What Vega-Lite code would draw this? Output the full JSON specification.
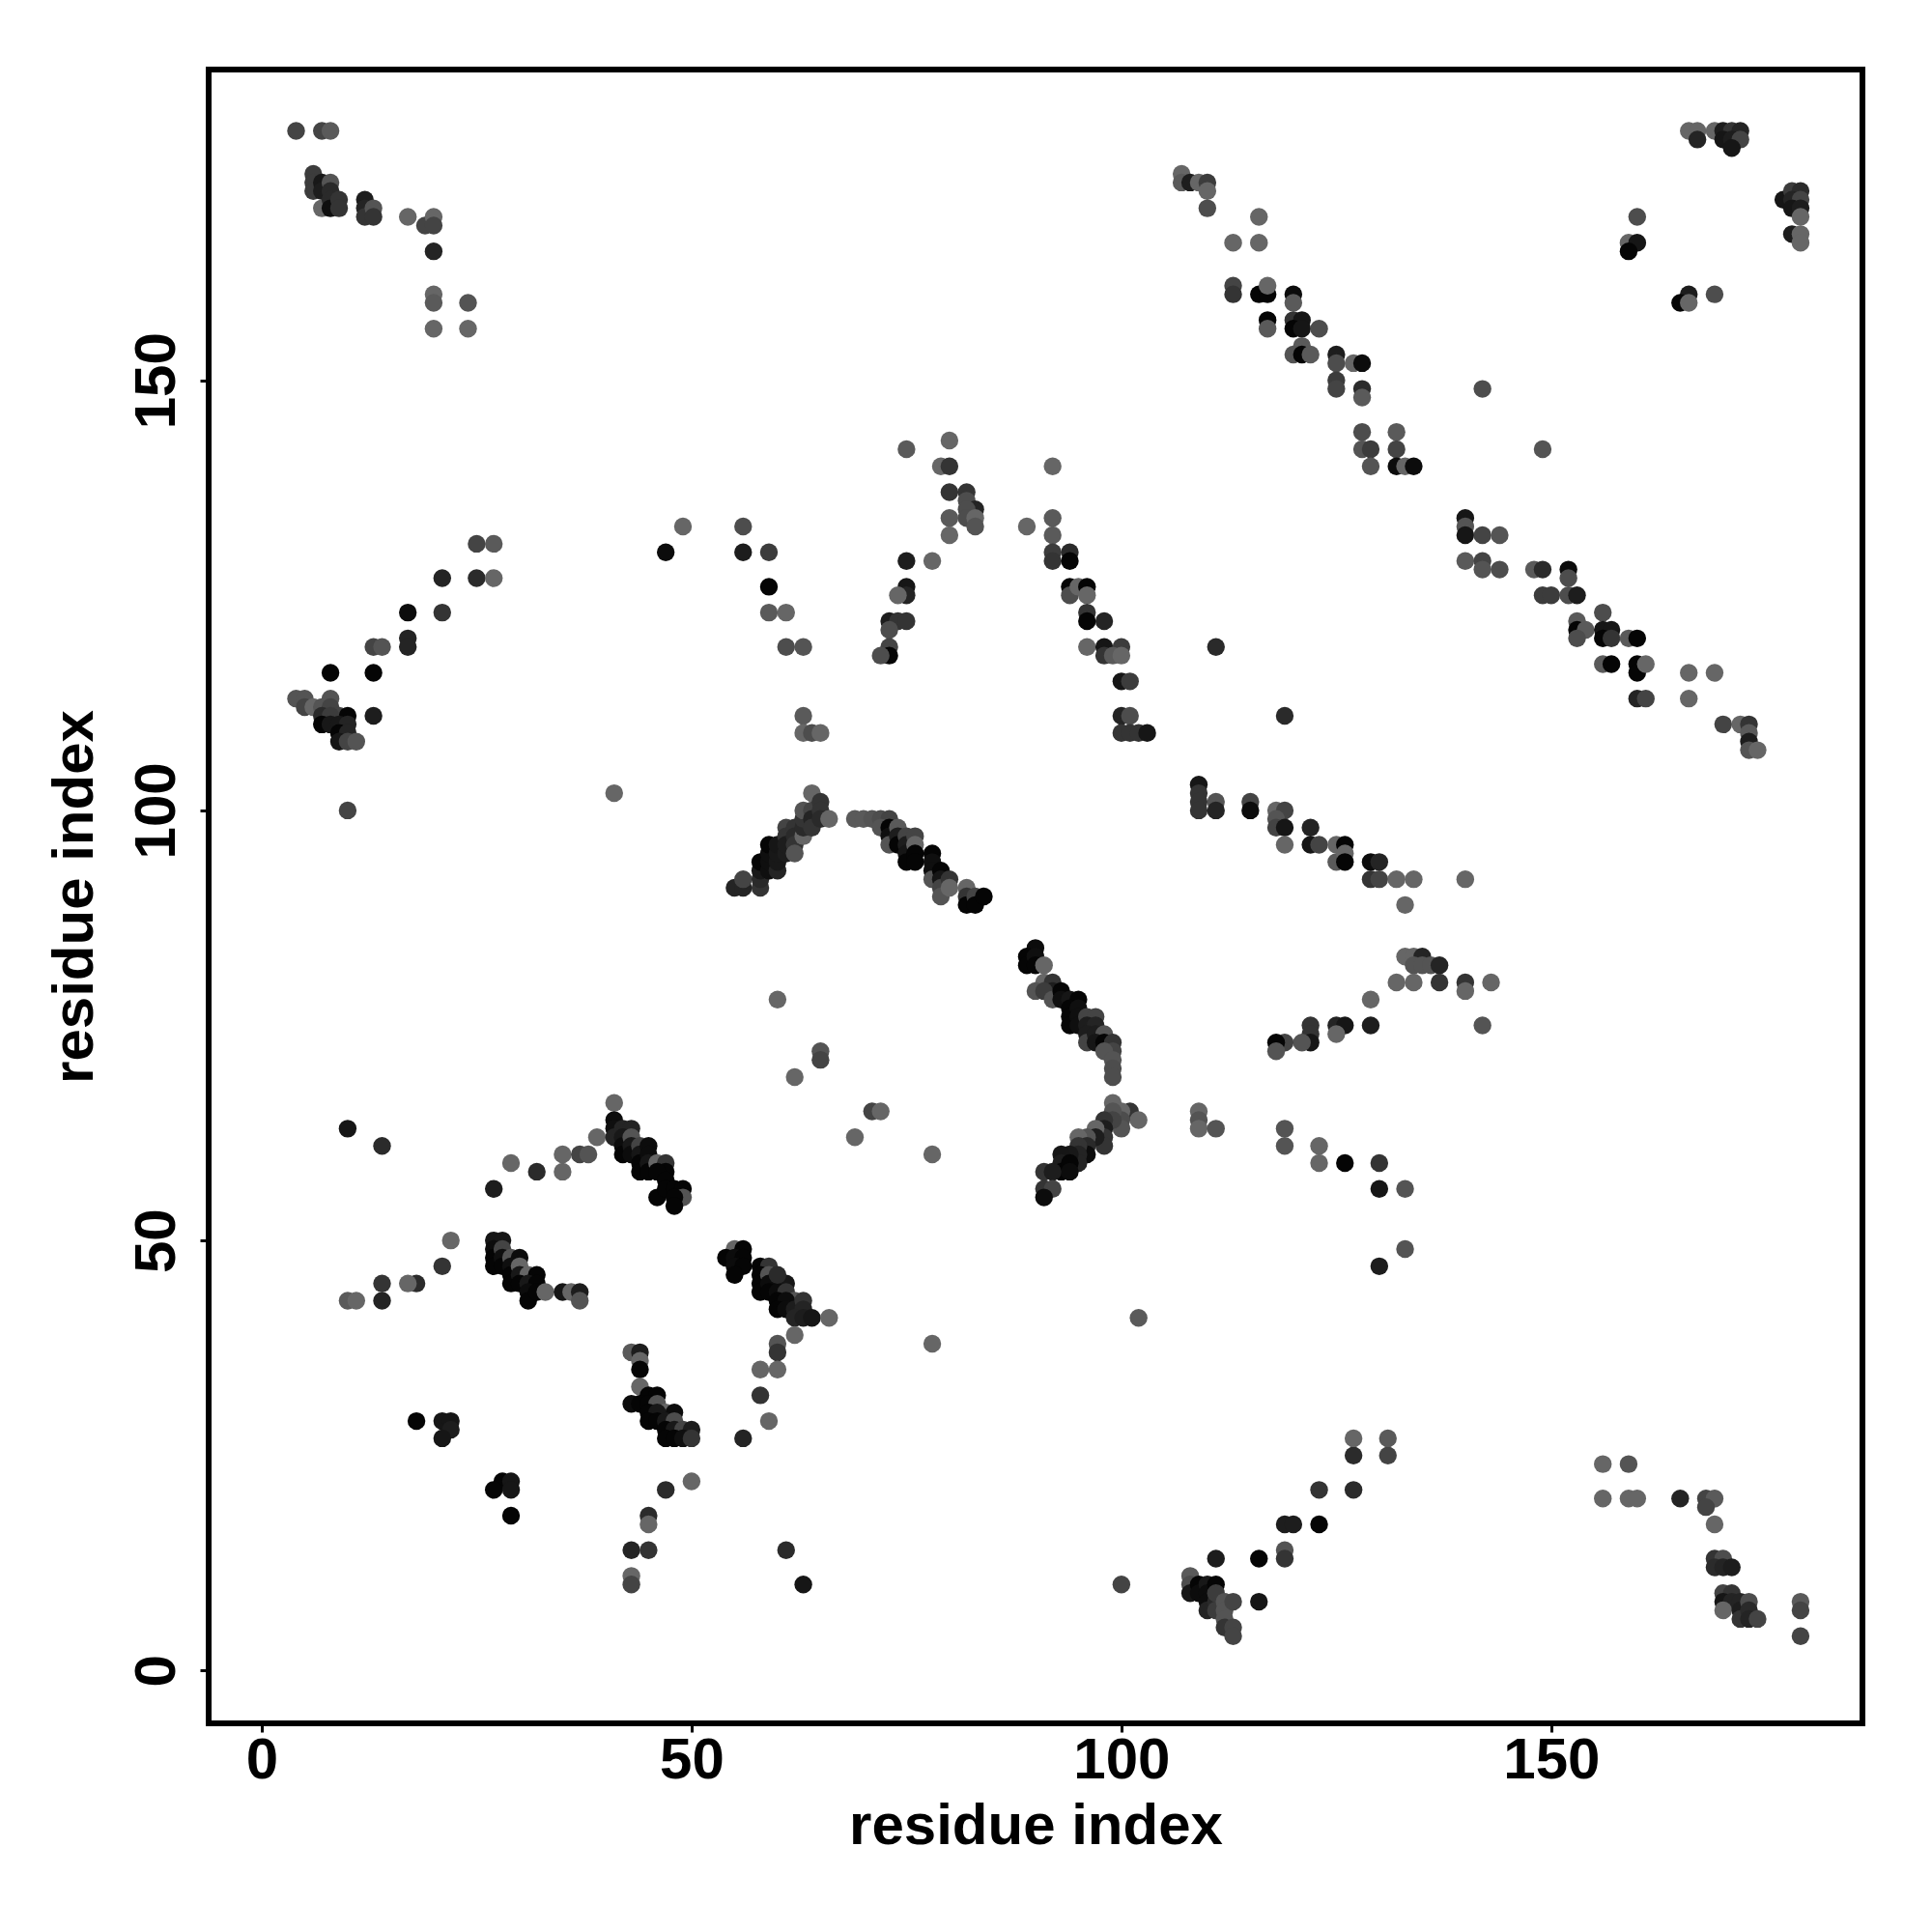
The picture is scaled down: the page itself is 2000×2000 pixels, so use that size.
{"$schema":"https://vega.github.io/schema/vega-lite/v6.json","width":1712,"height":1712,"autosize":{"type":"none"},"padding":{"left":216,"top":72,"right":72,"bottom":216},"background":"white","config":{"view":{"stroke":"black","strokeWidth":6,"fill":"white"}},
"data":{"values":[
{"x":4,"y":179,"g":68},{"x":7,"y":179,"g":68},{"x":8,"y":179,"g":90},{"x":6,"y":174,"g":60},{"x":6,"y":173,"g":60},{"x":6,"y":172,"g":60},{"x":7,"y":173,"g":20},{"x":7,"y":172,"g":26},{"x":7,"y":170,"g":102},{"x":8,"y":173,"g":85},{"x":8,"y":172,"g":40},{"x":8,"y":171,"g":40},{"x":8,"y":170,"g":10},{"x":9,"y":171,"g":51},{"x":9,"y":170,"g":51},{"x":12,"y":171,"g":26},{"x":12,"y":170,"g":34},{"x":12,"y":169,"g":51},{"x":13,"y":170,"g":85},{"x":13,"y":169,"g":51},{"x":17,"y":169,"g":102},{"x":19,"y":168,"g":68},{"x":20,"y":169,"g":102},{"x":20,"y":168,"g":68},{"x":20,"y":165,"g":34},{"x":20,"y":160,"g":102},{"x":20,"y":159,"g":90},{"x":24,"y":159,"g":85},{"x":20,"y":156,"g":102},{"x":24,"y":156,"g":102},
{"x":25,"y":131,"g":68},{"x":27,"y":131,"g":90},{"x":21,"y":127,"g":34},{"x":25,"y":127,"g":42},{"x":27,"y":127,"g":102},{"x":17,"y":123,"g":8},{"x":21,"y":123,"g":51},{"x":17,"y":120,"g":34},{"x":17,"y":119,"g":34},{"x":13,"y":119,"g":68},{"x":14,"y":119,"g":85},{"x":8,"y":116,"g":3},{"x":13,"y":116,"g":3},{"x":4,"y":113,"g":85},{"x":5,"y":113,"g":85},{"x":8,"y":113,"g":85},{"x":5,"y":112,"g":68},{"x":6,"y":112,"g":102},{"x":7,"y":112,"g":85},{"x":8,"y":112,"g":68},{"x":9,"y":111,"g":68},{"x":10,"y":111,"g":3},{"x":7,"y":111,"g":40},{"x":8,"y":111,"g":60},{"x":13,"y":111,"g":26},{"x":7,"y":110,"g":3},{"x":8,"y":110,"g":20},{"x":9,"y":110,"g":20},{"x":10,"y":110,"g":34},{"x":9,"y":109,"g":3},{"x":10,"y":109,"g":34},{"x":9,"y":108,"g":17},{"x":10,"y":108,"g":68},{"x":11,"y":108,"g":85},{"x":10,"y":100,"g":68},{"x":41,"y":102,"g":102},
{"x":49,"y":133,"g":102},{"x":56,"y":133,"g":77},{"x":47,"y":130,"g":8},{"x":56,"y":130,"g":26},{"x":59,"y":130,"g":60},{"x":59,"y":126,"g":3},{"x":59,"y":123,"g":90},{"x":61,"y":123,"g":102},{"x":61,"y":119,"g":77},{"x":63,"y":119,"g":85},{"x":63,"y":111,"g":90},{"x":63,"y":109,"g":102},{"x":64,"y":109,"g":77},{"x":65,"y":109,"g":102},
{"x":75,"y":142,"g":90},{"x":80,"y":143,"g":102},{"x":79,"y":140,"g":102},{"x":80,"y":140,"g":51},{"x":80,"y":137,"g":51},{"x":82,"y":137,"g":51},{"x":82,"y":136,"g":77},{"x":83,"y":135,"g":34},{"x":82,"y":135,"g":77},{"x":82,"y":134,"g":77},{"x":83,"y":134,"g":102},{"x":83,"y":133,"g":85},{"x":80,"y":134,"g":90},{"x":80,"y":132,"g":102},{"x":75,"y":129,"g":26},{"x":78,"y":129,"g":102},{"x":75,"y":126,"g":17},{"x":75,"y":125,"g":34},{"x":74,"y":125,"g":102},{"x":73,"y":122,"g":26},{"x":74,"y":122,"g":51},{"x":75,"y":122,"g":51},{"x":73,"y":121,"g":77},{"x":73,"y":119,"g":68},{"x":73,"y":118,"g":3},{"x":72,"y":118,"g":77},
{"x":92,"y":140,"g":102},{"x":89,"y":133,"g":102},{"x":92,"y":134,"g":90},{"x":92,"y":132,"g":90},{"x":92,"y":130,"g":60},{"x":92,"y":129,"g":51},{"x":94,"y":130,"g":42},{"x":94,"y":129,"g":3},{"x":94,"y":126,"g":3},{"x":94,"y":125,"g":77},{"x":95,"y":126,"g":102},{"x":96,"y":126,"g":3},{"x":96,"y":125,"g":102},{"x":96,"y":123,"g":51},{"x":96,"y":122,"g":3},{"x":98,"y":122,"g":34},{"x":96,"y":119,"g":102},{"x":98,"y":119,"g":17},{"x":100,"y":119,"g":60},{"x":98,"y":118,"g":51},{"x":99,"y":118,"g":90},{"x":100,"y":118,"g":102},{"x":100,"y":115,"g":17},{"x":101,"y":115,"g":60},{"x":100,"y":111,"g":34},{"x":101,"y":111,"g":77},{"x":100,"y":109,"g":51},{"x":101,"y":109,"g":51},{"x":102,"y":109,"g":51},{"x":103,"y":109,"g":17},{"x":111,"y":119,"g":40},{"x":119,"y":111,"g":40},
{"x":55,"y":91,"g":34},{"x":56,"y":91,"g":34},{"x":56,"y":92,"g":68},{"x":58,"y":91,"g":51},{"x":58,"y":92,"g":40},{"x":58,"y":93,"g":20},{"x":58,"y":94,"g":3},{"x":59,"y":93,"g":10},{"x":59,"y":94,"g":10},{"x":59,"y":95,"g":10},{"x":59,"y":96,"g":3},{"x":60,"y":93,"g":34},{"x":60,"y":94,"g":20},{"x":60,"y":95,"g":20},{"x":60,"y":96,"g":17},{"x":61,"y":98,"g":68},{"x":61,"y":97,"g":51},{"x":61,"y":95,"g":26},{"x":61,"y":96,"g":26},{"x":62,"y":98,"g":51},{"x":62,"y":97,"g":40},{"x":62,"y":96,"g":51},{"x":62,"y":95,"g":85},{"x":63,"y":97,"g":102},{"x":63,"y":98,"g":40},{"x":63,"y":99,"g":51},{"x":63,"y":100,"g":85},{"x":64,"y":102,"g":102},{"x":64,"y":100,"g":68},{"x":64,"y":99,"g":34},{"x":64,"y":98,"g":51},{"x":65,"y":101,"g":51},{"x":65,"y":100,"g":51},{"x":65,"y":99,"g":40},{"x":66,"y":99,"g":102},
{"x":69,"y":99,"g":90},{"x":70,"y":99,"g":90},{"x":71,"y":99,"g":85},{"x":72,"y":99,"g":77},{"x":73,"y":99,"g":68},{"x":72,"y":98,"g":85},{"x":73,"y":98,"g":3},{"x":73,"y":97,"g":10},{"x":73,"y":96,"g":85},{"x":74,"y":98,"g":90},{"x":74,"y":97,"g":26},{"x":74,"y":96,"g":3},{"x":75,"y":97,"g":68},{"x":75,"y":96,"g":26},{"x":75,"y":95,"g":17},{"x":75,"y":94,"g":3},{"x":76,"y":97,"g":68},{"x":76,"y":96,"g":102},{"x":76,"y":95,"g":3},{"x":76,"y":94,"g":3},{"x":78,"y":95,"g":3},{"x":78,"y":94,"g":10},{"x":78,"y":93,"g":10},{"x":78,"y":92,"g":85},{"x":79,"y":93,"g":3},{"x":79,"y":92,"g":17},{"x":79,"y":91,"g":68},{"x":79,"y":90,"g":85},{"x":80,"y":92,"g":51},{"x":80,"y":91,"g":102},{"x":82,"y":91,"g":102},{"x":82,"y":90,"g":51},{"x":82,"y":89,"g":3},{"x":83,"y":90,"g":68},{"x":83,"y":89,"g":3},{"x":84,"y":90,"g":3},
{"x":109,"y":103,"g":17},{"x":109,"y":102,"g":51},{"x":109,"y":101,"g":51},{"x":109,"y":100,"g":51},{"x":111,"y":101,"g":85},{"x":111,"y":100,"g":34},{"x":115,"y":101,"g":68},{"x":115,"y":100,"g":8},{"x":118,"y":100,"g":102},{"x":119,"y":100,"g":68},{"x":118,"y":99,"g":85},{"x":118,"y":98,"g":68},{"x":119,"y":98,"g":17},{"x":119,"y":96,"g":102},{"x":122,"y":98,"g":34},{"x":122,"y":96,"g":17},{"x":123,"y":96,"g":68},{"x":125,"y":96,"g":102},{"x":126,"y":96,"g":3},{"x":125,"y":94,"g":90},{"x":126,"y":95,"g":102},{"x":126,"y":94,"g":3},{"x":129,"y":94,"g":8},{"x":130,"y":94,"g":34},{"x":129,"y":92,"g":51},{"x":130,"y":92,"g":68},{"x":132,"y":92,"g":102},{"x":134,"y":92,"g":102},{"x":140,"y":92,"g":102},{"x":133,"y":89,"g":102},
{"x":90,"y":84,"g":8},{"x":89,"y":83,"g":3},{"x":89,"y":82,"g":3},{"x":90,"y":83,"g":10},{"x":90,"y":82,"g":3},{"x":91,"y":82,"g":102},{"x":91,"y":80,"g":102},{"x":90,"y":79,"g":85},{"x":92,"y":80,"g":51},{"x":92,"y":79,"g":26},{"x":91,"y":79,"g":60},{"x":92,"y":78,"g":85},{"x":93,"y":79,"g":3},{"x":93,"y":78,"g":10},{"x":94,"y":78,"g":17},{"x":95,"y":78,"g":3},{"x":94,"y":77,"g":3},{"x":94,"y":76,"g":3},{"x":94,"y":75,"g":3},{"x":95,"y":77,"g":10},{"x":95,"y":76,"g":10},{"x":95,"y":75,"g":10},{"x":96,"y":76,"g":68},{"x":97,"y":76,"g":68},{"x":96,"y":75,"g":26},{"x":97,"y":75,"g":34},{"x":96,"y":74,"g":26},{"x":96,"y":73,"g":68},{"x":97,"y":74,"g":26},{"x":98,"y":74,"g":85},{"x":97,"y":73,"g":17},{"x":98,"y":73,"g":3},{"x":99,"y":73,"g":51},{"x":99,"y":72,"g":68},{"x":98,"y":72,"g":85},{"x":99,"y":71,"g":85},{"x":99,"y":70,"g":77},{"x":99,"y":69,"g":77},
{"x":133,"y":83,"g":102},{"x":134,"y":83,"g":102},{"x":135,"y":83,"g":34},{"x":134,"y":82,"g":85},{"x":135,"y":82,"g":85},{"x":136,"y":82,"g":85},{"x":137,"y":82,"g":34},{"x":132,"y":80,"g":102},{"x":134,"y":80,"g":102},{"x":137,"y":80,"g":51},{"x":140,"y":80,"g":51},{"x":140,"y":79,"g":102},{"x":143,"y":80,"g":102},{"x":129,"y":78,"g":102},{"x":142,"y":75,"g":85},{"x":129,"y":75,"g":26},{"x":125,"y":75,"g":34},{"x":126,"y":75,"g":17},{"x":125,"y":74,"g":102},{"x":122,"y":75,"g":51},{"x":122,"y":74,"g":51},{"x":122,"y":73,"g":17},{"x":121,"y":73,"g":85},{"x":119,"y":73,"g":68},{"x":118,"y":73,"g":3},{"x":118,"y":72,"g":85},
{"x":99,"y":66,"g":102},{"x":101,"y":65,"g":51},{"x":102,"y":64,"g":102},{"x":100,"y":65,"g":102},{"x":100,"y":64,"g":77},{"x":100,"y":63,"g":85},{"x":99,"y":65,"g":85},{"x":99,"y":64,"g":68},{"x":98,"y":64,"g":51},{"x":98,"y":63,"g":26},{"x":98,"y":62,"g":51},{"x":98,"y":61,"g":51},{"x":97,"y":63,"g":102},{"x":97,"y":62,"g":26},{"x":96,"y":62,"g":85},{"x":95,"y":62,"g":102},{"x":96,"y":61,"g":40},{"x":96,"y":60,"g":8},{"x":95,"y":61,"g":51},{"x":95,"y":60,"g":34},{"x":95,"y":59,"g":34},{"x":94,"y":60,"g":20},{"x":93,"y":60,"g":17},{"x":93,"y":59,"g":26},{"x":93,"y":58,"g":3},{"x":94,"y":59,"g":3},{"x":94,"y":58,"g":8},{"x":91,"y":58,"g":51},{"x":92,"y":58,"g":26},{"x":91,"y":56,"g":51},{"x":92,"y":56,"g":68},{"x":91,"y":55,"g":8},
{"x":60,"y":78,"g":102},{"x":65,"y":72,"g":85},{"x":65,"y":71,"g":68},{"x":62,"y":69,"g":102},{"x":71,"y":65,"g":68},{"x":72,"y":65,"g":102},{"x":69,"y":62,"g":102},{"x":78,"y":60,"g":102},{"x":109,"y":65,"g":102},{"x":109,"y":64,"g":85},{"x":109,"y":63,"g":102},{"x":111,"y":63,"g":85},{"x":119,"y":63,"g":85},{"x":119,"y":61,"g":85},{"x":123,"y":61,"g":102},{"x":123,"y":59,"g":102},{"x":126,"y":59,"g":3},{"x":130,"y":59,"g":51},{"x":130,"y":56,"g":17},{"x":133,"y":56,"g":85},{"x":133,"y":49,"g":85},{"x":130,"y":47,"g":26},{"x":102,"y":41,"g":90},
{"x":10,"y":63,"g":17},{"x":14,"y":61,"g":42},{"x":22,"y":50,"g":102},{"x":29,"y":59,"g":102},{"x":32,"y":58,"g":42},{"x":35,"y":58,"g":102},{"x":35,"y":60,"g":102},{"x":37,"y":60,"g":68},{"x":38,"y":60,"g":85},{"x":39,"y":62,"g":102},{"x":41,"y":66,"g":102},{"x":27,"y":56,"g":26},
{"x":41,"y":64,"g":8},{"x":41,"y":63,"g":10},{"x":41,"y":62,"g":34},{"x":42,"y":63,"g":34},{"x":43,"y":63,"g":34},{"x":42,"y":62,"g":20},{"x":42,"y":61,"g":8},{"x":42,"y":60,"g":3},{"x":43,"y":62,"g":85},{"x":43,"y":61,"g":20},{"x":43,"y":60,"g":8},{"x":44,"y":61,"g":68},{"x":44,"y":60,"g":17},{"x":44,"y":59,"g":3},{"x":44,"y":58,"g":3},{"x":45,"y":61,"g":8},{"x":45,"y":60,"g":8},{"x":45,"y":59,"g":17},{"x":45,"y":58,"g":3},{"x":46,"y":59,"g":102},{"x":47,"y":59,"g":51},{"x":47,"y":58,"g":3},{"x":46,"y":58,"g":3},{"x":47,"y":57,"g":3},{"x":46,"y":55,"g":3},{"x":47,"y":56,"g":3},{"x":48,"y":56,"g":3},{"x":49,"y":56,"g":3},{"x":49,"y":55,"g":85},{"x":48,"y":55,"g":3},{"x":48,"y":54,"g":3},
{"x":21,"y":47,"g":51},{"x":18,"y":45,"g":42},{"x":17,"y":45,"g":102},{"x":14,"y":45,"g":51},{"x":14,"y":43,"g":34},{"x":10,"y":43,"g":90},{"x":11,"y":43,"g":102},
{"x":27,"y":50,"g":17},{"x":28,"y":50,"g":17},{"x":27,"y":49,"g":8},{"x":27,"y":48,"g":3},{"x":27,"y":47,"g":3},{"x":28,"y":49,"g":68},{"x":28,"y":48,"g":10},{"x":28,"y":47,"g":3},{"x":29,"y":48,"g":85},{"x":30,"y":48,"g":8},{"x":29,"y":47,"g":10},{"x":29,"y":46,"g":3},{"x":29,"y":45,"g":3},{"x":30,"y":47,"g":102},{"x":30,"y":46,"g":20},{"x":31,"y":46,"g":102},{"x":32,"y":46,"g":3},{"x":30,"y":45,"g":3},{"x":31,"y":45,"g":20},{"x":32,"y":45,"g":3},{"x":31,"y":44,"g":8},{"x":31,"y":43,"g":3},{"x":32,"y":44,"g":3},{"x":33,"y":44,"g":102},{"x":35,"y":44,"g":17},{"x":36,"y":44,"g":102},{"x":37,"y":44,"g":26},{"x":37,"y":43,"g":85},
{"x":55,"y":49,"g":102},{"x":56,"y":49,"g":3},{"x":54,"y":48,"g":3},{"x":55,"y":48,"g":8},{"x":56,"y":48,"g":3},{"x":55,"y":47,"g":8},{"x":56,"y":47,"g":3},{"x":55,"y":46,"g":3},{"x":58,"y":47,"g":3},{"x":59,"y":47,"g":51},{"x":58,"y":46,"g":3},{"x":58,"y":45,"g":3},{"x":58,"y":44,"g":3},{"x":59,"y":46,"g":85},{"x":60,"y":45,"g":85},{"x":61,"y":45,"g":17},{"x":59,"y":45,"g":8},{"x":59,"y":44,"g":3},{"x":60,"y":44,"g":8},{"x":61,"y":44,"g":51},{"x":60,"y":46,"g":40},{"x":62,"y":43,"g":85},{"x":60,"y":43,"g":3},{"x":61,"y":43,"g":8},{"x":60,"y":42,"g":3},{"x":61,"y":42,"g":8},{"x":62,"y":42,"g":26},{"x":63,"y":43,"g":51},{"x":63,"y":42,"g":34},{"x":62,"y":41,"g":34},{"x":63,"y":41,"g":26},{"x":64,"y":41,"g":17},{"x":66,"y":41,"g":102},{"x":62,"y":39,"g":102},{"x":60,"y":38,"g":85},{"x":60,"y":37,"g":51},{"x":58,"y":35,"g":102},{"x":60,"y":35,"g":102},{"x":58,"y":32,"g":51},{"x":59,"y":29,"g":102},{"x":56,"y":27,"g":34},{"x":78,"y":38,"g":102},
{"x":43,"y":37,"g":90},{"x":44,"y":37,"g":26},{"x":44,"y":36,"g":102},{"x":44,"y":35,"g":3},{"x":44,"y":33,"g":102},{"x":45,"y":32,"g":3},{"x":46,"y":32,"g":3},{"x":43,"y":31,"g":8},{"x":44,"y":31,"g":3},{"x":45,"y":31,"g":3},{"x":46,"y":31,"g":85},{"x":47,"y":30,"g":102},{"x":48,"y":30,"g":8},{"x":45,"y":30,"g":3},{"x":46,"y":30,"g":20},{"x":45,"y":29,"g":3},{"x":46,"y":29,"g":3},{"x":47,"y":29,"g":20},{"x":48,"y":29,"g":77},{"x":47,"y":28,"g":3},{"x":48,"y":28,"g":20},{"x":49,"y":28,"g":68},{"x":50,"y":28,"g":26},{"x":47,"y":27,"g":3},{"x":48,"y":27,"g":3},{"x":49,"y":27,"g":10},{"x":50,"y":27,"g":51},
{"x":18,"y":29,"g":3},{"x":21,"y":29,"g":17},{"x":22,"y":29,"g":17},{"x":22,"y":28,"g":26},{"x":21,"y":27,"g":17},{"x":28,"y":22,"g":3},{"x":29,"y":22,"g":17},{"x":27,"y":21,"g":3},{"x":29,"y":21,"g":17},{"x":29,"y":18,"g":3},{"x":50,"y":22,"g":102},{"x":47,"y":21,"g":42},{"x":45,"y":18,"g":42},{"x":45,"y":17,"g":102},{"x":43,"y":14,"g":34},{"x":45,"y":14,"g":51},{"x":61,"y":14,"g":42},{"x":43,"y":11,"g":102},{"x":43,"y":10,"g":68},{"x":63,"y":10,"g":17},
{"x":100,"y":10,"g":68},{"x":108,"y":11,"g":90},{"x":108,"y":10,"g":77},{"x":108,"y":9,"g":17},{"x":109,"y":10,"g":3},{"x":109,"y":9,"g":8},{"x":110,"y":10,"g":20},{"x":110,"y":9,"g":8},{"x":110,"y":8,"g":8},{"x":110,"y":7,"g":34},{"x":111,"y":10,"g":3},{"x":111,"y":13,"g":26},{"x":111,"y":8,"g":40},{"x":111,"y":9,"g":60},{"x":111,"y":7,"g":60},{"x":112,"y":8,"g":85},{"x":112,"y":7,"g":85},{"x":113,"y":8,"g":68},{"x":112,"y":6,"g":85},{"x":112,"y":5,"g":51},{"x":113,"y":5,"g":68},{"x":113,"y":4,"g":68},{"x":116,"y":8,"g":17},{"x":116,"y":13,"g":3},{"x":119,"y":14,"g":85},{"x":119,"y":13,"g":51},{"x":119,"y":17,"g":26},{"x":120,"y":17,"g":26},{"x":123,"y":17,"g":3},{"x":123,"y":21,"g":51},{"x":127,"y":21,"g":42},{"x":127,"y":25,"g":42},{"x":127,"y":27,"g":102},{"x":131,"y":25,"g":68},{"x":131,"y":27,"g":90},
{"x":156,"y":24,"g":102},{"x":159,"y":24,"g":85},{"x":156,"y":20,"g":102},{"x":159,"y":20,"g":102},{"x":160,"y":20,"g":102},{"x":165,"y":20,"g":34},{"x":168,"y":20,"g":68},{"x":169,"y":20,"g":90},{"x":168,"y":19,"g":68},{"x":169,"y":17,"g":102},{"x":169,"y":13,"g":51},{"x":170,"y":13,"g":77},{"x":169,"y":12,"g":42},{"x":170,"y":12,"g":34},{"x":171,"y":12,"g":26},{"x":170,"y":9,"g":68},{"x":171,"y":9,"g":51},{"x":170,"y":8,"g":17},{"x":171,"y":8,"g":34},{"x":170,"y":7,"g":102},{"x":172,"y":8,"g":34},{"x":172,"y":7,"g":26},{"x":172,"y":6,"g":51},{"x":173,"y":8,"g":77},{"x":173,"y":7,"g":40},{"x":173,"y":6,"g":34},{"x":174,"y":6,"g":68},{"x":179,"y":8,"g":90},{"x":179,"y":7,"g":68},{"x":179,"y":4,"g":68},
{"x":107,"y":174,"g":102},{"x":107,"y":173,"g":90},{"x":108,"y":173,"g":26},{"x":109,"y":173,"g":102},{"x":110,"y":173,"g":60},{"x":110,"y":172,"g":102},{"x":110,"y":170,"g":77},{"x":116,"y":169,"g":102},{"x":113,"y":166,"g":102},{"x":116,"y":166,"g":102},{"x":113,"y":161,"g":68},{"x":113,"y":160,"g":51},{"x":116,"y":160,"g":3},{"x":117,"y":160,"g":3},{"x":117,"y":161,"g":102},{"x":120,"y":160,"g":8},{"x":120,"y":159,"g":90},{"x":117,"y":157,"g":3},{"x":117,"y":156,"g":90},{"x":120,"y":157,"g":51},{"x":121,"y":157,"g":17},{"x":120,"y":156,"g":3},{"x":121,"y":156,"g":17},{"x":123,"y":156,"g":77},{"x":121,"y":154,"g":90},{"x":120,"y":153,"g":85},{"x":121,"y":153,"g":3},{"x":122,"y":153,"g":90},{"x":125,"y":153,"g":26},{"x":125,"y":152,"g":77},{"x":127,"y":152,"g":102},{"x":128,"y":152,"g":8},{"x":125,"y":150,"g":60},{"x":125,"y":149,"g":68},{"x":128,"y":149,"g":42},{"x":128,"y":148,"g":90},{"x":128,"y":144,"g":77},{"x":132,"y":144,"g":90},{"x":128,"y":142,"g":85},{"x":129,"y":142,"g":60},{"x":132,"y":142,"g":68},{"x":129,"y":140,"g":85},{"x":132,"y":140,"g":8},{"x":133,"y":140,"g":102},{"x":134,"y":140,"g":8},{"x":142,"y":149,"g":77},{"x":149,"y":142,"g":85},
{"x":140,"y":134,"g":17},{"x":140,"y":133,"g":85},{"x":140,"y":132,"g":17},{"x":142,"y":132,"g":68},{"x":144,"y":132,"g":85},{"x":140,"y":129,"g":90},{"x":142,"y":129,"g":68},{"x":142,"y":128,"g":85},{"x":144,"y":128,"g":77},{"x":148,"y":128,"g":90},{"x":149,"y":128,"g":42},{"x":152,"y":128,"g":8},{"x":152,"y":127,"g":77},{"x":149,"y":125,"g":60},{"x":150,"y":125,"g":60},{"x":152,"y":125,"g":77},{"x":153,"y":125,"g":26},{"x":156,"y":123,"g":77},{"x":153,"y":122,"g":90},{"x":153,"y":121,"g":3},{"x":154,"y":121,"g":90},{"x":153,"y":120,"g":77},{"x":156,"y":121,"g":17},{"x":157,"y":121,"g":17},{"x":156,"y":120,"g":3},{"x":157,"y":120,"g":51},{"x":159,"y":120,"g":90},{"x":160,"y":120,"g":3},{"x":156,"y":117,"g":90},{"x":157,"y":117,"g":3},{"x":160,"y":117,"g":3},{"x":160,"y":116,"g":3},{"x":161,"y":117,"g":102},{"x":166,"y":116,"g":102},{"x":169,"y":116,"g":102},{"x":160,"y":113,"g":34},{"x":161,"y":113,"g":68},{"x":166,"y":113,"g":102},{"x":170,"y":110,"g":68},{"x":172,"y":110,"g":102},{"x":173,"y":110,"g":51},{"x":173,"y":109,"g":90},{"x":173,"y":108,"g":26},{"x":173,"y":107,"g":85},{"x":174,"y":107,"g":102},
{"x":166,"y":179,"g":102},{"x":167,"y":179,"g":102},{"x":167,"y":178,"g":34},{"x":169,"y":179,"g":102},{"x":170,"y":179,"g":26},{"x":171,"y":179,"g":51},{"x":172,"y":179,"g":34},{"x":170,"y":178,"g":17},{"x":171,"y":178,"g":26},{"x":172,"y":178,"g":68},{"x":171,"y":177,"g":17},{"x":177,"y":171,"g":17},{"x":178,"y":172,"g":60},{"x":179,"y":172,"g":42},{"x":178,"y":171,"g":34},{"x":179,"y":171,"g":68},{"x":178,"y":170,"g":17},{"x":179,"y":170,"g":26},{"x":179,"y":169,"g":102},{"x":178,"y":167,"g":26},{"x":179,"y":167,"g":102},{"x":179,"y":166,"g":102},{"x":160,"y":169,"g":77},{"x":159,"y":166,"g":102},{"x":160,"y":166,"g":17},{"x":159,"y":165,"g":3},{"x":166,"y":160,"g":26},{"x":165,"y":159,"g":3},{"x":166,"y":159,"g":102},{"x":169,"y":160,"g":77}
]},
"mark":{"type":"point","filled":true,"opacity":1,"size":339,"shape":"circle","clip":true},
"encoding":{
"x":{"field":"x","type":"quantitative","scale":{"domain":[-6.17,186.2],"nice":false,"zero":false},
"axis":{"values":[0,50,100,150],"title":"residue index","grid":false,"domain":false,"ticks":true,"tickColor":"black","tickWidth":3,"tickSize":9,"labelFont":"Liberation Sans","labelFontWeight":"bold","labelFontSize":60,"labelColor":"black","labelPadding":0,"titleFont":"Liberation Sans","titleFontWeight":"bold","titleFontSize":60,"titleColor":"black","titlePadding":9}},
"y":{"field":"y","type":"quantitative","scale":{"domain":[-6.14,186.13],"nice":false,"zero":false},
"axis":{"values":[0,50,100,150],"title":"residue index","grid":false,"domain":false,"ticks":true,"tickColor":"black","tickWidth":3,"tickSize":9,"labelFont":"Liberation Sans","labelFontWeight":"bold","labelFontSize":60,"labelColor":"black","labelAngle":-90,"labelAlign":"center","labelBaseline":"alphabetic","labelPadding":27,"titleFont":"Liberation Sans","titleFontWeight":"bold","titleFontSize":60,"titleColor":"black","titlePadding":24}},
"color":{"field":"g","type":"quantitative","scale":{"domain":[0,107],"range":["#000000","#6b6b6b"]},"legend":null},
"order":[{"field":"x","type":"quantitative"},{"field":"y","type":"quantitative"}]
}}
